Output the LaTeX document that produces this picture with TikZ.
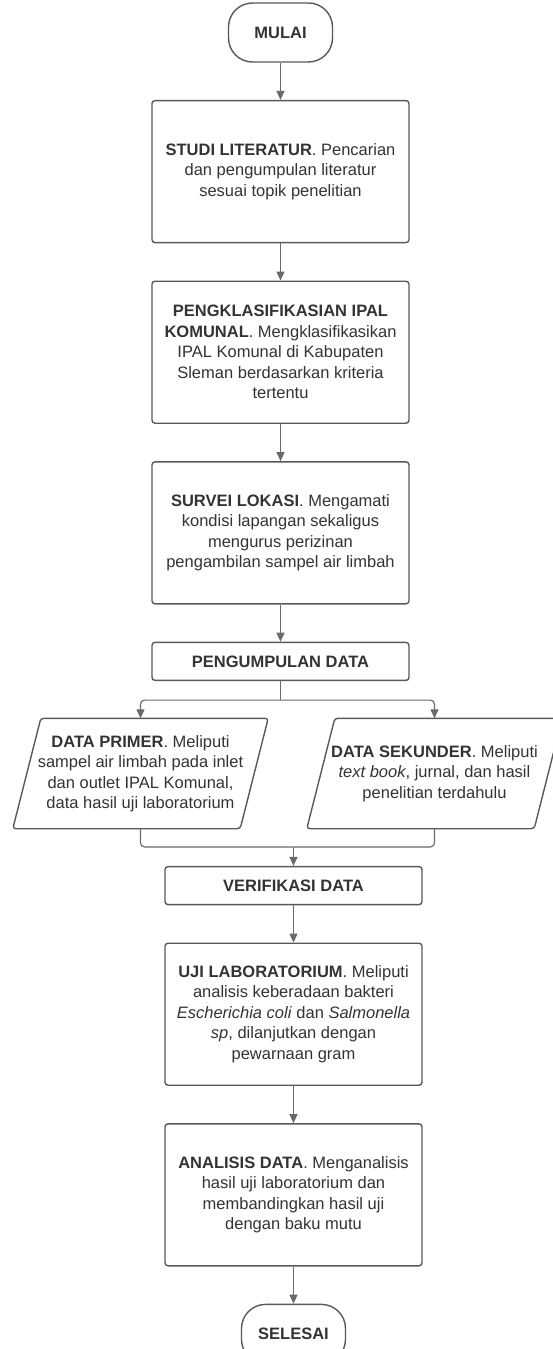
\documentclass[tikz,border=0pt]{standalone}
\usepackage{fontspec}
\setmainfont{Liberation Sans}
\usetikzlibrary{positioning,arrows.meta}
\definecolor{garis}{HTML}{595959}
\definecolor{panahc}{HTML}{6A6A6A}
\definecolor{teks}{HTML}{333333}

\begin{document}
\begin{tikzpicture}[x=1pt, y=1pt, node distance=37.2pt,
  font=\fontsize{16.5}{20.5}\selectfont, text=teks,
  terminal/.style = {draw=garis, line width=1.4pt, rounded corners=24pt, minimum width=104pt, minimum height=59pt},
  proses/.style = {draw=garis, line width=1.4pt, rounded corners=3pt, minimum width=257pt, minimum height=142pt, align=center, inner sep=0pt},
  judul/.style = {proses, minimum height=38pt},
  data/.style = {minimum width=255pt, minimum height=110pt, align=center, inner sep=0pt},
  jajar/.style = {draw=garis, line width=1.4pt, rounded corners=3pt},
  panah/.style = {draw=panahc, line width=1.2pt, -{Triangle[length=9pt,width=8pt]}},
  sambung/.style = {draw=panahc, line width=1.2pt, rounded corners=4pt}]
\useasboundingbox (0,0) rectangle (552,-1349);
\node[terminal] (mulai) at (280.5,-32.5) {\textbf{MULAI}};
\node[proses] (studi) [below=of mulai] {\textbf{STUDI LITERATUR}. Pencarian\\ dan pengumpulan literatur\\ sesuai topik penelitian};
\node[proses] (klasifikasi) [below=of studi] {\textbf{PENGKLASIFIKASIAN IPAL}\\ \textbf{KOMUNAL}. Mengklasifikasikan\\ IPAL Komunal di Kabupaten\\ Sleman berdasarkan kriteria\\ tertentu};
\node[proses] (survei) [below=of klasifikasi] {\textbf{SURVEI LOKASI}. Mengamati\\ kondisi lapangan sekaligus\\ mengurus perizinan\\ pengambilan sampel air limbah};
\node[judul] (kumpul) [below=of survei] {\textbf{PENGUMPULAN DATA}};
\node[data] (primer) [below=of kumpul, xshift=-140pt] {\textbf{DATA PRIMER}. Meliputi\\ sampel air limbah pada inlet\\ dan outlet IPAL Komunal,\\ data hasil uji laboratorium};
\node[data] (sekunder) [below=of kumpul, xshift=154pt] {\textbf{DATA SEKUNDER}. Meliputi\\ \textit{text book}, jurnal, dan hasil\\ penelitian terdahulu};
\node[judul] (verif) [below=of primer, xshift=153pt] {\textbf{VERIFIKASI DATA}};
\node[proses] (uji) [below=of verif] {\textbf{UJI LABORATORIUM}. Meliputi\\ analisis keberadaan bakteri\\ \textit{Escherichia coli} dan \textit{Salmonella}\\ \textit{sp}, dilanjutkan dengan\\ pewarnaan gram};
\node[proses] (analisis) [below=of uji] {\textbf{ANALISIS DATA}. Menganalisis\\ hasil uji laboratorium dan\\ membandingkan hasil uji\\ dengan baku mutu};
\node[terminal] (selesai) [below=of analisis] {\textbf{SELESAI}};
% jajar genjang data
\draw[jajar] (primer.south west) -- ([xshift=-28pt]primer.south east) -- (primer.north east) -- ([xshift=28pt]primer.north west) -- cycle;
\draw[jajar] (sekunder.south west) -- ([xshift=-28pt]sekunder.south east) -- (sekunder.north east) -- ([xshift=28pt]sekunder.north west) -- cycle;
\coordinate (cabang) at ([yshift=-19pt]kumpul.south);
\coordinate (gabung) at ([yshift=19pt]verif.north);
\draw[panah] (mulai) -- (studi);
\draw[panah] (studi) -- (klasifikasi);
\draw[panah] (klasifikasi) -- (survei);
\draw[panah] (survei) -- (kumpul);
\draw[sambung] (kumpul) -- (cabang);
\draw[panah, rounded corners=4pt] (cabang) -| (primer.north);
\draw[panah, rounded corners=4pt] (cabang) -| (sekunder.north);
\draw[sambung] (primer) |- (gabung);
\draw[sambung] (sekunder) |- (gabung);
\draw[panah] (gabung) -- (verif);
\draw[panah] (verif) -- (uji);
\draw[panah] (uji) -- (analisis);
\draw[panah] (analisis) -- (selesai);
\end{tikzpicture}
\end{document}
